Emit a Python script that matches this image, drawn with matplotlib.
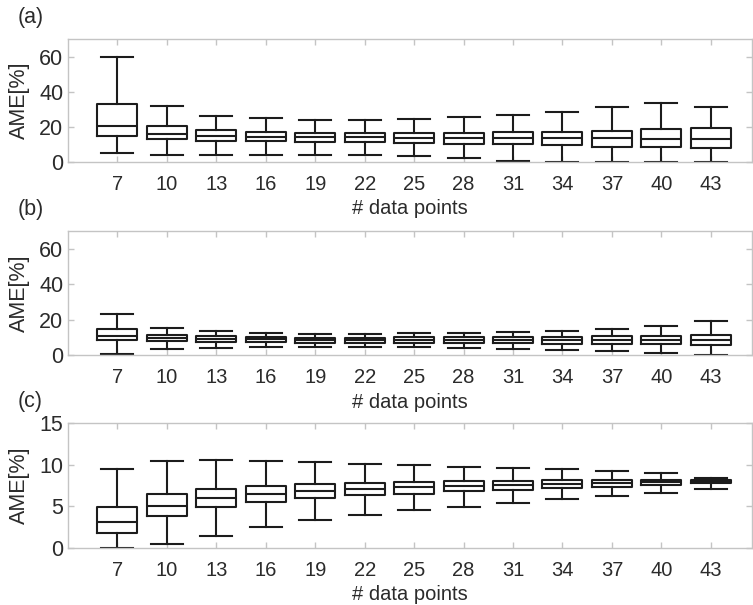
import matplotlib
matplotlib.use("Agg")
import matplotlib.pyplot as plt

plt.rcParams['font.family'] = ['Liberation Sans', 'DejaVu Sans']

positions = [7, 10, 13, 16, 19, 22, 25, 28, 31, 34, 37, 40, 43]
tick_labels = [str(p) for p in positions]

# Panel (a)
a_whishi = [60, 31.8, 26.3, 24.8, 24.1, 24.1, 24.4, 25.4, 26.7, 28.6, 31.4, 33.3, 31.4]
a_q3 = [32.9, 20.5, 18, 17.1, 16.7, 16.5, 16.5, 16.7, 16.9, 17.3, 17.9, 18.8, 19.2]
a_med = [20.3, 16, 14.9, 14.3, 14.1, 14.1, 13.9, 13.7, 13.7, 13.5, 13.4, 13.2, 13]
a_q1 = [14.9, 13, 12.2, 11.8, 11.5, 11.5, 10.9, 10.5, 10, 9.4, 8.8, 8.5, 8.1]
a_whislo = [4.9, 4.1, 3.9, 4.1, 4.1, 3.9, 3.2, 2.1, 0.4, 0, 0, 0, 0]

# Panel (b)
b_whishi = [23.3, 15.4, 13.4, 12.6, 12.1, 12.1, 12.2, 12.7, 13.1, 13.7, 14.6, 16.1, 19.2]
b_q3 = [14.5, 11.4, 10.6, 10.2, 9.8, 9.8, 9.9, 10.1, 10.1, 10.3, 10.5, 10.8, 11.3]
b_med = [10.9, 9.8, 9.2, 8.9, 8.6, 8.6, 8.7, 8.7, 8.5, 8.5, 8.5, 8.4, 8.3]
b_q1 = [8.4, 7.8, 7.3, 7.1, 7.0, 7.0, 6.9, 6.9, 6.6, 6.4, 6.2, 6.1, 5.4]
b_whislo = [0.5, 3.4, 4.1, 4.4, 4.6, 4.6, 4.3, 3.9, 3.4, 3.0, 2.0, 0.9, 0]

# Panel (c)
c_whishi = [9.5, 10.45, 10.53, 10.41, 10.29, 10.13, 9.93, 9.77, 9.61, 9.45, 9.25, 8.97, 8.44]
c_q3 = [4.9, 6.43, 7.12, 7.44, 7.64, 7.8, 7.92, 8.04, 8.08, 8.12, 8.16, 8.16, 8.16]
c_med = [3.1, 5.1, 5.95, 6.51, 6.88, 7.12, 7.28, 7.44, 7.56, 7.68, 7.76, 7.88, 8.0]
c_q1 = [1.81, 3.82, 4.87, 5.51, 5.99, 6.31, 6.51, 6.8, 6.96, 7.16, 7.32, 7.52, 7.76]
c_whislo = [0.05, 0.52, 1.45, 2.53, 3.42, 4.02, 4.54, 4.95, 5.43, 5.83, 6.19, 6.63, 7.12]

panels = [
    ("(a)", a_whislo, a_q1, a_med, a_q3, a_whishi, (0, 70), [0, 20, 40, 60]),
    ("(b)", b_whislo, b_q1, b_med, b_q3, b_whishi, (0, 70), [0, 20, 40, 60]),
    ("(c)", c_whislo, c_q1, c_med, c_q3, c_whishi, (0, 15), [0, 5, 10, 15]),
]

W, H = 753, 605
fig = plt.figure(figsize=(W / 100, H / 100), dpi=100)

axes_px = [(39, 162), (231, 355), (423, 548)]
left_px, right_px = 68, 752

line_col = '#1c1c1c'
spine_col = '#c4c4c4'
text_col = '#2b2b2b'
fs = 15.5
fs_x = 14.5

for (label, lo, q1, med, q3, hi, ylim, yticks), (top, bot) in zip(panels, axes_px):
    ax = fig.add_axes([left_px / W, 1 - bot / H, (right_px - left_px) / W, (bot - top) / H])
    stats = [dict(whislo=l, q1=a, med=m, q3=b, whishi=h, fliers=[])
             for l, a, m, b, h in zip(lo, q1, med, q3, hi)]
    ls = dict(color=line_col, linewidth=1.5)
    ax.bxp(stats, positions=positions, widths=2.43, capwidths=1.94,
           showfliers=False,
           boxprops=ls, medianprops=ls, whiskerprops=ls, capprops=ls)
    ax.set_xlim(4, 45.5)
    ax.set_ylim(*ylim)
    ax.set_xticks(positions)
    ax.set_xticklabels(tick_labels)
    ax.set_yticks(yticks)
    for s in ax.spines.values():
        s.set_color(spine_col)
        s.set_linewidth(1.0)
    ax.tick_params(axis='both', direction='in', color=spine_col, length=4.3,
                   width=1.0, labelsize=fs, labelcolor=text_col,
                   top=True, right=True)
    ax.tick_params(axis='x', pad=16.5, labelsize=fs_x)
    ax.tick_params(axis='y', pad=3.5)
    for t in ax.get_xticklabels():
        t.set_verticalalignment('center')
    ax.set_xlabel('# data points', fontsize=fs_x, color=text_col)
    ax.xaxis.label.set_verticalalignment('center')
    ax.xaxis.set_label_coords(0.5, -47 / (bot - top))
    ax.set_ylabel('AME[%]', fontsize=fs, color=text_col)
    ax.yaxis.label.set_verticalalignment('center')
    ax.yaxis.set_label_coords((19 - left_px) / (right_px - left_px), 0.5)
    fig.text(18 / W, 1 - (top - 21) / H, label, fontsize=fs, color=text_col,
             ha='left', va='center')

fig.savefig('out.png', dpi=100)
